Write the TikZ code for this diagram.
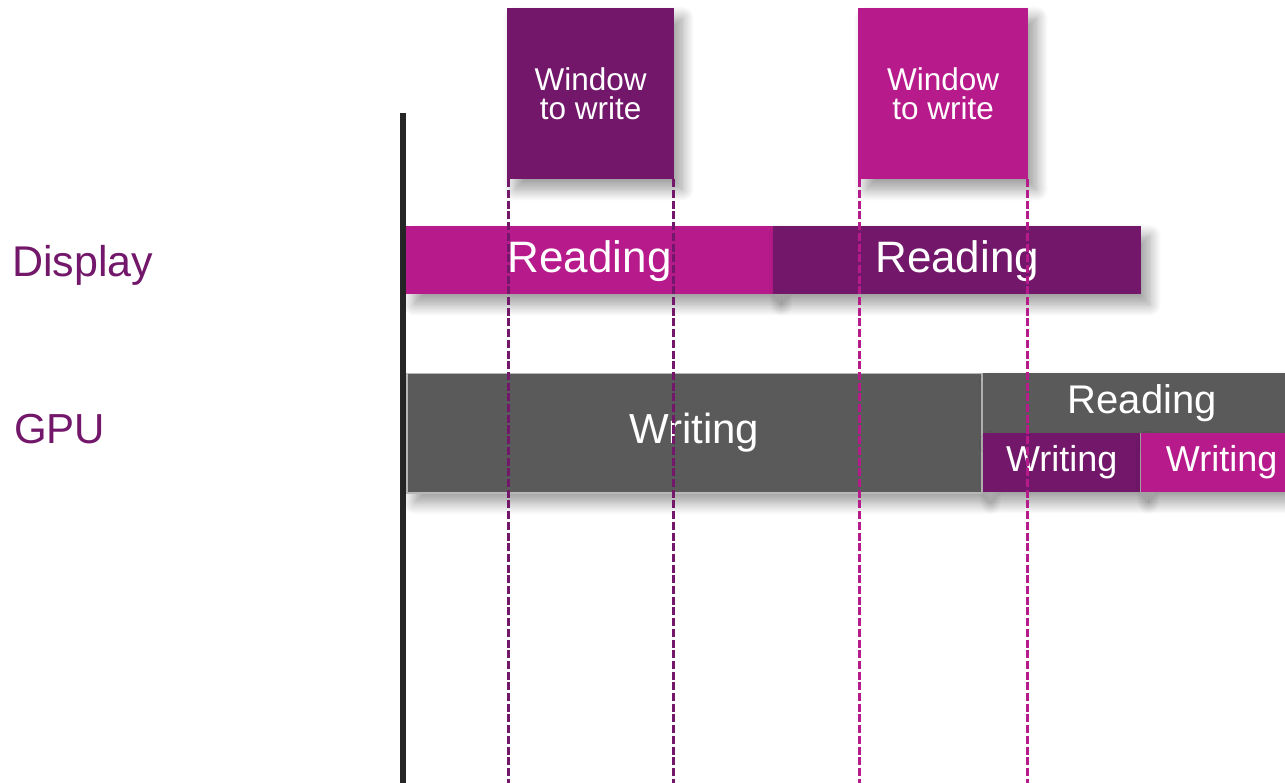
\documentclass[tikz,border=0pt]{standalone}
\usepackage{fontspec}
\setmainfont{Liberation Sans}
\usetikzlibrary{positioning,shadows.blur}

\definecolor{plum}{HTML}{72176A}
\definecolor{berry}{HTML}{B71A8B}
\definecolor{slate}{HTML}{5A5A5A}
\definecolor{axisgrey}{HTML}{262626}

\tikzset{
	lane/.style={text=plum, anchor=base west, inner sep=0pt, font=\fontsize{43}{48}\selectfont},
	slot/.style={rectangle, inner sep=0pt, anchor=north west, text=white,
		blur shadow={shadow xshift=8pt, shadow yshift=-10pt, shadow blur radius=12pt, shadow blur steps=12, shadow opacity=40}},
	big/.style={font=\fontsize{44}{48}\selectfont, text height=33pt, text depth=9pt},
	mid/.style={font=\fontsize{42}{46}\selectfont, text height=31.5pt, text depth=10.5pt},
	small/.style={font=\fontsize{40}{44}\selectfont, text height=30pt, text depth=10pt},
	tiny/.style={font=\fontsize{36}{40}\selectfont, text height=27pt, text depth=10pt},
	winbox/.style={slot, align=center, font=\fontsize{31.5}{29.5}\selectfont},
	cut/.style={line width=2.6pt, dash pattern=on 8pt off 2.7pt},
}

\begin{document}
\begin{tikzpicture}[x=1pt,y=-1pt]
		\clip (0,0) rectangle (1285,783);

		\coordinate (axtop) at (403,113);
		\coordinate (axbot) at (403,783);
		\draw[line width=5.5pt,axisgrey] (axtop) -- (axbot);

		\node[lane] (disp) at (12,277) {Display};
		\node[lane,font=\fontsize{42}{46}\selectfont] (gpu) at (14,443) {GPU};

		% display row
		\node[slot,big,fill=berry,minimum width=367pt,minimum height=68pt] (readA) at (406,226) {Reading};
		\node[slot,big,fill=plum,minimum width=368pt,minimum height=68pt] (readB) at (773,226) {Reading};

		% gpu row
		\node[slot,mid,fill=slate,draw=black!28,line width=1.5pt,minimum width=575pt,minimum height=119pt] (writeA) at (406,373) {Writing};
		\node[slot,small,fill=slate,minimum width=318pt,minimum height=60pt] (readC) at (983,373) {Reading};
		\node[slot,tiny,fill=plum,minimum width=157pt,minimum height=59pt] (writeB) at (983,433) {Writing};
		\node[slot,tiny,fill=berry,minimum width=162pt,minimum height=59pt,right=0pt of writeB] (writeC) {Writing};

		% windows
		\node[winbox,fill=plum,minimum width=167pt,minimum height=171pt] (winA) at (507,8) {Window\\to write};
		\node[winbox,fill=berry,minimum width=170pt,minimum height=171pt] (winB) at (858,8) {Window\\to write};

		\coordinate (floor) at (0,783);
		\draw[cut,plum] ([xshift=1.5pt]winA.south west) -- ([xshift=1.5pt]winA.south west |- floor);
		\draw[cut,plum] ([xshift=-1pt]winA.south east) -- ([xshift=-1pt]winA.south east |- floor);
		\draw[cut,berry] ([xshift=1.5pt]winB.south west) -- ([xshift=1.5pt]winB.south west |- floor);
		\draw[cut,berry] ([xshift=-1pt]winB.south east) -- ([xshift=-1pt]winB.south east |- floor);
	\end{tikzpicture}
\end{document}
